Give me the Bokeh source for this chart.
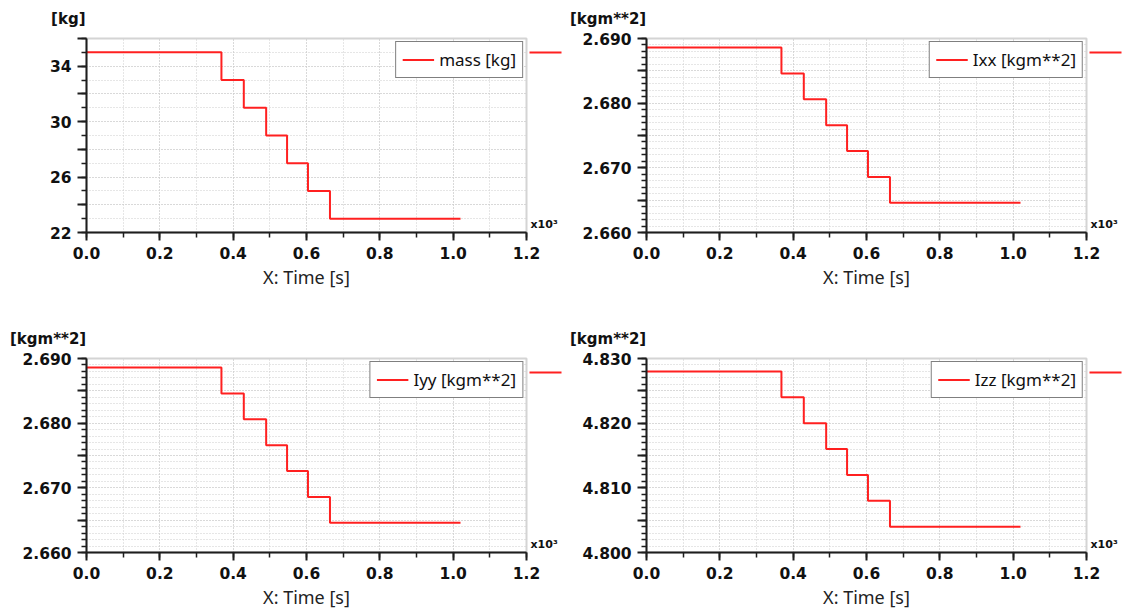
from bokeh.plotting import figure
from bokeh.layouts import gridplot
from bokeh.models import (FixedTicker, CustomJSTickFormatter, Legend, LegendItem,
                          Range1d, LinearAxis)
from bokeh.embed import file_html
from bokeh.resources import INLINE

# ---- data (time in seconds, plotted in x10^3 s) ----
time_s = [0, 368, 429, 490, 547, 604, 664, 1020]
mass_kg = [35.0, 33.0, 31.0, 29.0, 27.0, 25.0, 23.0, 23.0]
ixx = [2.6886, 2.6846, 2.6806, 2.6766, 2.6726, 2.6686, 2.6646, 2.6646]
iyy = [2.6886, 2.6846, 2.6806, 2.6766, 2.6726, 2.6686, 2.6646, 2.6646]
izz = [4.8280, 4.8240, 4.8200, 4.8160, 4.8120, 4.8080, 4.8040, 4.8040]

x_major = [0.0, 0.2, 0.4, 0.6, 0.8, 1.0, 1.2]
x_minor = [i / 10 for i in range(0, 13)]

RED = "#ff2020"
AXIS = "#1e1e1e"
GRID = "#cdcdcd"

# approximate advance widths (em) of DejaVu Sans Bold, to right-align the unit title
_W = {"[": 0.457, "]": 0.457, "k": 0.665, "g": 0.716, "m": 1.042, "*": 0.5, "2": 0.696}
TITLE_PX = 15
DASH_OUT = 35


def text_w(s, px):
    return sum(_W.get(c, 0.6) for c in s) * px


def panel(series_name, unit, yvals, ymin, ymax, major_step, label_step, minor_step,
          dec, width, height, bl, br, bt, bb):
    p = figure(width=width, height=height, output_backend="svg", toolbar_location=None,
               x_range=Range1d(0, 1.2), y_range=Range1d(ymin, ymax),
               min_border_left=bl, min_border_right=br, min_border_top=bt,
               min_border_bottom=bb)
    p.background_fill_color = "white"
    p.border_fill_color = "white"
    p.outline_line_color = "#d4d4d4"
    p.outline_line_width = 2

    xs = [t / 1000 for t in time_s]
    r = p.step(xs, yvals, mode="after", line_color=RED, line_width=2)

    # ticks
    p.xaxis.ticker = FixedTicker(ticks=x_major, minor_ticks=x_minor)
    p.xaxis.formatter = CustomJSTickFormatter(code="return tick.toFixed(1);")
    n_major = int(round((ymax - ymin) / major_step))
    n_minor = int(round((ymax - ymin) / minor_step))
    ymaj = [ymin + i * major_step for i in range(n_major + 1)]
    ymin_t = [ymin + i * minor_step for i in range(n_minor + 1)]
    p.yaxis.ticker = FixedTicker(ticks=ymaj, minor_ticks=ymin_t)
    p.yaxis.formatter = CustomJSTickFormatter(
        args=dict(base=ymin, step=label_step, dec=dec),
        code="""
        const k = (tick - base) / step;
        return (Math.abs(k - Math.round(k)) < 1e-4) ? tick.toFixed(dec) : '';
        """)

    for ax in (p.xaxis[0], p.yaxis[0]):
        ax.axis_line_color = AXIS
        ax.axis_line_width = 2
        ax.major_tick_line_color = AXIS
        ax.minor_tick_line_color = AXIS
        ax.major_tick_line_width = 2
        ax.minor_tick_line_width = 1.5
        ax.major_tick_in = 0
        ax.minor_tick_in = 0
        ax.major_label_text_font = "DejaVu Sans"
        ax.major_label_text_font_style = "bold"
        ax.major_label_text_font_size = "15.5px"
        ax.major_label_text_color = "#111111"
    p.xaxis.major_tick_out = 8
    p.xaxis.minor_tick_out = 5
    p.yaxis.major_tick_out = 9
    p.yaxis.minor_tick_out = 5
    p.xaxis.major_label_standoff = 6
    p.yaxis.major_label_standoff = 6

    p.xaxis.axis_label = "X: Time [s]"
    p.xaxis.axis_label_text_font = "Noto Sans"
    p.xaxis.axis_label_text_font_style = "normal"
    p.xaxis.axis_label_text_font_size = "18px"
    p.xaxis.axis_label_text_color = "#222222"
    p.xaxis.axis_label_standoff = 3

    for g in (p.xgrid[0], p.ygrid[0]):
        g.grid_line_color = GRID
        g.grid_line_dash = "1 2"
        g.grid_line_width = 1
        g.minor_grid_line_color = GRID
        g.minor_grid_line_dash = "1 2"
        g.minor_grid_line_width = 1

    # legend
    leg = Legend(items=[LegendItem(label=series_name, renderers=[r])],
                 location="top_right", margin=3, padding=6,
                 glyph_width=32, glyph_height=23, label_height=23,
                 label_standoff=5, border_line_color="black", border_line_width=1,
                 background_fill_color="white", background_fill_alpha=1.0,
                 label_text_font="Noto Sans", label_text_font_size="17px",
                 label_text_color="#111111")
    p.add_layout(leg)

    # unit title above the y axis, right-aligned to the axis
    p.title.text = unit
    p.title.align = "left"
    p.title.offset = -(text_w(unit, TITLE_PX) + 1)
    p.title.vertical_align = "top"
    p.title.standoff = 18
    p.title.text_font = "DejaVu Sans"
    p.title.text_font_style = "bold"
    p.title.text_font_size = f"{TITLE_PX}px"
    p.title.text_color = "#111111"

    # right-hand axis: x10^3 multiplier label and short red marker
    px_y = (ymax - ymin) / 194
    rax = LinearAxis(ticker=FixedTicker(ticks=[ymin + 8 * px_y],
                                        minor_ticks=[ymax - 14 * px_y]))
    rax.formatter = CustomJSTickFormatter(code="return 'x10\u00b3';")
    rax.axis_line_color = None
    rax.major_tick_line_color = None
    rax.major_tick_out = 0
    rax.major_tick_in = 0
    rax.minor_tick_in = -3
    rax.minor_tick_out = DASH_OUT
    rax.minor_tick_line_color = RED
    rax.minor_tick_line_width = 2
    rax.major_label_standoff = 4 - DASH_OUT
    rax.major_label_text_font = "DejaVu Sans"
    rax.major_label_text_font_style = "bold"
    rax.major_label_text_font_size = "11px"
    rax.major_label_text_color = "#111111"
    p.add_layout(rax, "right")
    return p


p1 = panel("mass [kg]", "[kg]", mass_kg, 22, 36, 2, 4, 1, 0,
           562, 320, 86, 36, 38, 88)
p2 = panel("Ixx [kgm**2]", "[kgm**2]", ixx, 2.660, 2.690, 0.005, 0.010, 0.001, 3,
           561, 320, 84, 37, 38, 88)
p3 = panel("Iyy [kgm**2]", "[kgm**2]", iyy, 2.660, 2.690, 0.005, 0.010, 0.001, 3,
           562, 292, 86, 36, 38, 60)
p4 = panel("Izz [kgm**2]", "[kgm**2]", izz, 4.800, 4.830, 0.005, 0.010, 0.001, 3,
           561, 292, 84, 37, 38, 60)

grid = gridplot([[p1, p2], [p3, p4]], toolbar_location=None)

open("out.html", "w").write(file_html(grid, INLINE))
